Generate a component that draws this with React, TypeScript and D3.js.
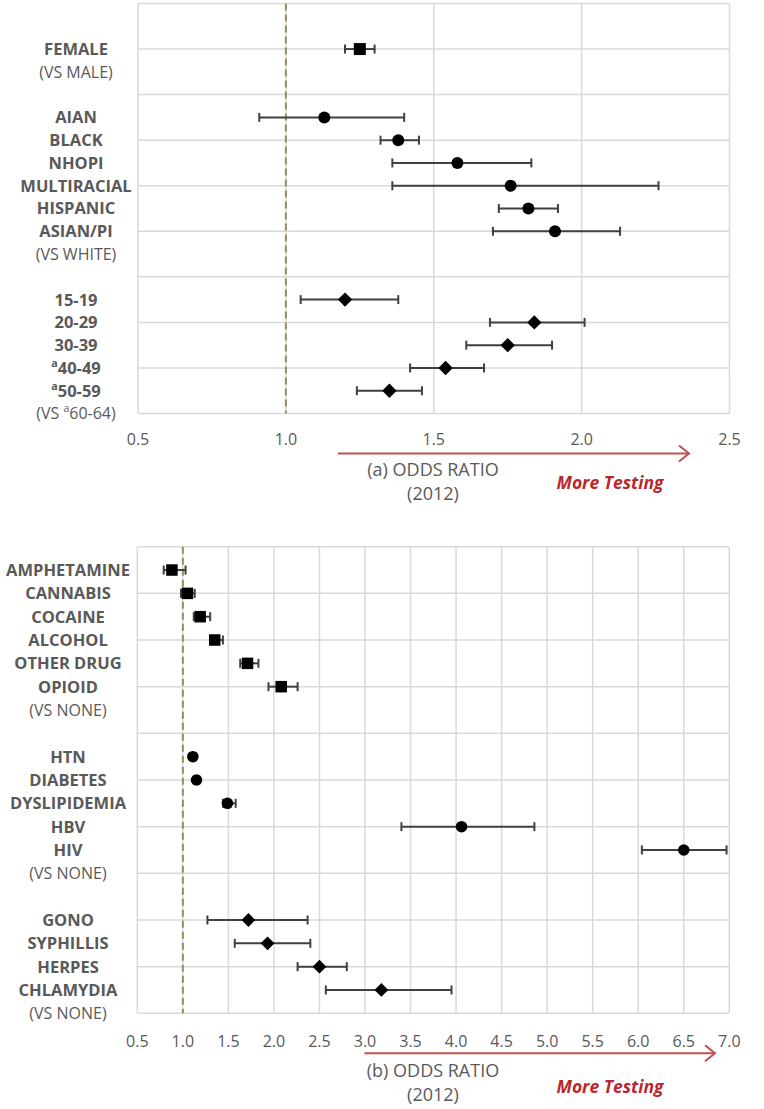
import React from "react";
import * as d3 from "d3";

// ---------- Panel (a) data ----------
const panelATerms = ["FEMALE", "AIAN", "BLACK", "NHOPI", "MULTIRACIAL", "HISPANIC", "ASIAN/PI", "15-19", "20-29", "30-39", "^a40-49", "^a50-59"];
const panelARow = [2, 5, 6, 7, 8, 9, 10, 13, 14, 15, 16, 17];
const panelAOR = [1.25, 1.13, 1.38, 1.58, 1.76, 1.82, 1.91, 1.2, 1.84, 1.75, 1.54, 1.35];
const panelALow = [1.2, 0.91, 1.32, 1.36, 1.36, 1.72, 1.7, 1.05, 1.69, 1.61, 1.42, 1.24];
const panelAHigh = [1.3, 1.4, 1.45, 1.83, 2.26, 1.92, 2.13, 1.38, 2.01, 1.9, 1.67, 1.46];
const panelAShape = ["square", "circle", "circle", "circle", "circle", "circle", "circle", "diamond", "diamond", "diamond", "diamond", "diamond"];
const panelARefText = ["(VS MALE)", "(VS WHITE)", "(VS ^a60-64)"];
const panelARefRow = [3, 11, 18];
const panelATicks = [0.5, 1.0, 1.5, 2.0, 2.5];

// ---------- Panel (b) data ----------
const panelBTerms = ["AMPHETAMINE", "CANNABIS", "COCAINE", "ALCOHOL", "OTHER DRUG", "OPIOID", "HTN", "DIABETES", "DYSLIPIDEMIA", "HBV", "HIV", "GONO", "SYPHILLIS", "HERPES", "CHLAMYDIA"];
const panelBRow = [1, 2, 3, 4, 5, 6, 9, 10, 11, 12, 13, 16, 17, 18, 19];
const panelBOR = [0.88, 1.05, 1.19, 1.35, 1.71, 2.08, 1.11, 1.15, 1.49, 4.06, 6.5, 1.72, 1.93, 2.5, 3.18];
const panelBLow = [0.79, 0.98, 1.12, 1.3, 1.63, 1.94, 1.08, 1.12, 1.44, 3.4, 6.04, 1.27, 1.57, 2.26, 2.57];
const panelBHigh = [1.03, 1.13, 1.3, 1.44, 1.83, 2.26, 1.14, 1.18, 1.58, 4.86, 6.97, 2.37, 2.4, 2.8, 3.95];
const panelBShape = ["square", "square", "square", "square", "square", "square", "circle", "circle", "circle", "circle", "circle", "diamond", "diamond", "diamond", "diamond"];
const panelBRefText = ["(VS NONE)", "(VS NONE)", "(VS NONE)"];
const panelBRefRow = [7, 14, 20];
const panelBTicks = [0.5, 1.0, 1.5, 2.0, 2.5, 3.0, 3.5, 4.0, 4.5, 5.0, 5.5, 6.0, 6.5, 7.0];

const FONT = "'Open Sans', 'Noto Sans', sans-serif";
const GRAY = "#595959";
const GRID = "#d9d9d9";
const BAR = "#404040";
const REF = "#9b8b5b";
const ARROW = "#c0504d";
const RED_TEXT = "#b8282e";

function SupText({ text, x, y, fontSize, ...props }: any) {
  const parts = text.split("^a");
  const base = y + fontSize * 0.36;
  if (parts.length === 1) return <text x={x} y={base} fontSize={fontSize} {...props}>{text}</text>;
  return (
    <text x={x} y={base} fontSize={fontSize} {...props}>
      {parts[0]}
      <tspan fontSize={fontSize * 0.65} baselineShift="super">a</tspan>
      <tspan>{parts[1]}</tspan>
    </text>
  );
}

function Marker({ shape, cx, cy, size }: any) {
  if (shape === "square") {
    return <rect x={cx - size / 2} y={cy - size / 2} width={size} height={size} fill="#000" />;
  }
  if (shape === "circle") {
    return <circle cx={cx} cy={cy} r={size / 2} fill="#000" />;
  }
  const h = size * 0.6;
  return <path d={`M${cx - h},${cy}L${cx},${cy - h}L${cx + h},${cy}L${cx},${cy + h}Z`} fill="#000" />;
}

function Panel(props: any) {
  const {
    terms, rows, or, low, high, shapes, refText, refRow, ticks,
    left, right, top, bottom, nRows, labelX, tickY, titleX, titleY1, titleY2,
    arrowX1, arrowX2, arrowY, moreX, moreY, letter, markerSize,
  } = props;
  const x = d3.scaleLinear().domain([ticks[0], ticks[ticks.length - 1]]).range([left, right]);
  const y = d3.scaleLinear().domain([0, nRows]).range([top, bottom]);
  const hGrid = d3.range(0, nRows + 1, 2);
  const cap = 4.5;
  return (
    <g>
      {/* grid */}
      {ticks.map((t: number) => (
        <line key={"v" + t} x1={x(t)} x2={x(t)} y1={top} y2={bottom} stroke={GRID} strokeWidth={1.5} />
      ))}
      {hGrid.map((r: number) => (
        <line key={"h" + r} x1={left} x2={right} y1={y(r)} y2={y(r)} stroke={GRID} strokeWidth={1.5} />
      ))}
      {/* reference line */}
      <line x1={x(1)} x2={x(1)} y1={top} y2={bottom} stroke={REF} strokeWidth={2} strokeDasharray="7,4" />
      {/* error bars and markers */}
      {terms.map((t: string, i: number) => {
        const cy = y(rows[i]);
        return (
          <g key={t}>
            <line x1={x(low[i])} x2={x(high[i])} y1={cy} y2={cy} stroke={BAR} strokeWidth={2} />
            <line x1={x(low[i])} x2={x(low[i])} y1={cy - cap} y2={cy + cap} stroke={BAR} strokeWidth={2} />
            <line x1={x(high[i])} x2={x(high[i])} y1={cy - cap} y2={cy + cap} stroke={BAR} strokeWidth={2} />
            <Marker shape={shapes[i]} cx={x(or[i])} cy={cy} size={markerSize} />
          </g>
        );
      })}
      {/* category labels */}
      {terms.map((t: string, i: number) => (
        <SupText key={"l" + t} text={t} x={labelX} y={y(rows[i])} textAnchor="middle"
          fontFamily={FONT} fontWeight={700} fontSize={16.5} fill={GRAY} />
      ))}
      {refText.map((t: string, i: number) => (
        <SupText key={"r" + i} text={t} x={labelX} y={y(refRow[i])} textAnchor="middle"
          fontFamily={FONT} fontSize={16} fill={GRAY} />
      ))}
      {/* tick labels */}
      {ticks.map((t: number) => (
        <text key={"t" + t} x={x(t)} y={tickY} textAnchor="middle" fontFamily={FONT} fontSize={16} fill={GRAY}>
          {d3.format(".1f")(t)}
        </text>
      ))}
      {/* arrow */}
      <line x1={arrowX1} x2={arrowX2} y1={arrowY} y2={arrowY} stroke={ARROW} strokeWidth={2} />
      <path d={`M${arrowX2 - 10},${arrowY - 8}L${arrowX2},${arrowY}L${arrowX2 - 10},${arrowY + 8}`} fill="none" stroke={ARROW} strokeWidth={2} />
      {/* titles */}
      <text x={titleX} y={titleY1} textAnchor="middle" fontFamily={FONT} fontSize={18} fill={GRAY}>
        {`(${letter}) ODDS RATIO`}
      </text>
      <text x={titleX} y={titleY2} textAnchor="middle" fontFamily={FONT} fontSize={18} fill={GRAY}>
        (2012)
      </text>
      <text x={moreX} y={moreY} textAnchor="middle" fontFamily={FONT} fontSize={17.5} fontWeight={700}
        fontStyle="italic" fill={RED_TEXT}>
        More Testing
      </text>
    </g>
  );
}

export default function App() {
  return (
    <svg width={764} height={1109} style={{ position: "absolute", left: 0, top: 0, background: "#fff" }}>
      <rect width={764} height={1109} fill="#fff" />
      <Panel
        terms={panelATerms} rows={panelARow} or={panelAOR} low={panelALow} high={panelAHigh}
        shapes={panelAShape} refText={panelARefText} refRow={panelARefRow} ticks={panelATicks}
        left={138} right={729.5} top={3.5} bottom={413.5} nRows={18} labelX={76}
        tickY={445} titleX={433} titleY1={476} titleY2={500}
        arrowX1={338} arrowX2={689} arrowY={453.5} moreX={610} moreY={489} letter="a" markerSize={12}
      />
      <Panel
        terms={panelBTerms} rows={panelBRow} or={panelBOR} low={panelBLow} high={panelBHigh}
        shapes={panelBShape} refText={panelBRefText} refRow={panelBRefRow} ticks={panelBTicks}
        left={137.3} right={729.3} top={546.7} bottom={1013.3} nRows={20} labelX={68}
        tickY={1047} titleX={433} titleY1={1077} titleY2={1101}
        arrowX1={364.5} arrowX2={715} arrowY={1053.3} moreX={610} moreY={1093} letter="b" markerSize={11.5}
      />
    </svg>
  );
}
